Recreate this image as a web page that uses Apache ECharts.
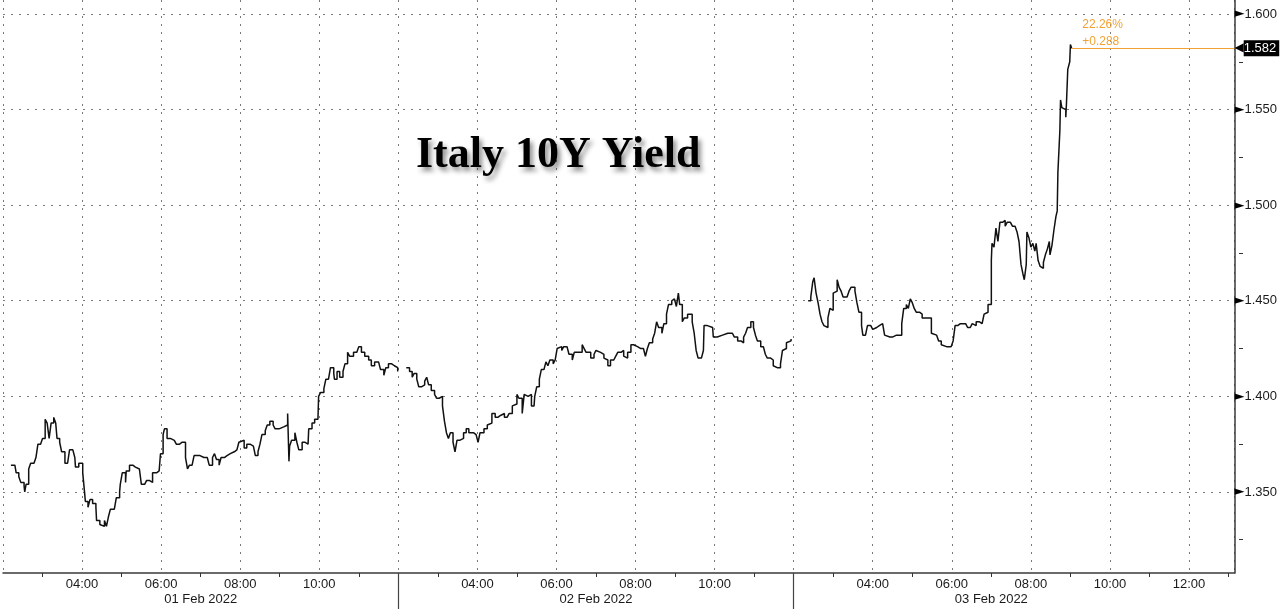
<!DOCTYPE html>
<html><head><meta charset="utf-8">
<script src="https://cdn.jsdelivr.net/npm/echarts@6/dist/echarts.min.js"></script>
<style>html,body{margin:0;padding:0;background:#fff}#c{width:1280px;height:609px}</style>
</head><body><div id="c"></div>
<script>
const chartTitle = 'Italy 10Y Yield';
const dayLabels = ['01 Feb 2022', '02 Feb 2022', '03 Feb 2022'];
const sessionOpenHour = 2;      // each session drawn from 02:00
const sessionLength = 10;       // hours per session on the axis
const sessionCount = 3;
const xAxisEnd = 31.15;         // axis ends ~13:09 on the last day
const yTicks = [1.35, 1.40, 1.45, 1.50, 1.55, 1.60];
const yMinorTicks = [1.325, 1.375, 1.425, 1.475, 1.525, 1.575];
const prevClose = 1.294;

// minutes after 02:00, and yields
const day1Minutes = [12,18,20,24,27,32,33,35,39,42,47,50,53,57,60,64,67,70,73,77,80,82,86,89,94,98,101,106,109,110,115,118,121,124,125,129,132,136,141,142,147,150,154,157,160,163,169,172,177,178,181,186,187,192,197,201,207,210,215,218,222,227,233,237,239,243,245,249,254,260,263,268,272,275,277,280,283,287,290,295,299,305,310,313,318,321,324,328,331,336,340,345,351,355,358,361,366,370,375,380,383,387,390,393,398,401,405,410,413,419,426,432,434,435,438,443,446,449,454,458,463,464,469,473,478,479,482,487,490,494,497,502,503,507,511,516,519,523,526,532,537,540,544,549,555,559,564,570,573,578,581,585,590,594,599];
const day1Values = [1.364,1.365,1.360,1.358,1.355,1.353,1.350,1.354,1.362,1.365,1.366,1.368,1.375,1.374,1.378,1.388,1.386,1.378,1.386,1.389,1.386,1.378,1.376,1.371,1.365,1.365,1.372,1.372,1.368,1.363,1.365,1.365,1.360,1.349,1.345,1.342,1.346,1.344,1.342,1.335,1.333,1.332,1.335,1.332,1.337,1.341,1.342,1.347,1.350,1.354,1.360,1.355,1.361,1.364,1.363,1.362,1.361,1.354,1.355,1.356,1.355,1.360,1.361,1.362,1.370,1.380,1.383,1.378,1.377,1.376,1.375,1.376,1.376,1.376,1.368,1.362,1.364,1.363,1.369,1.369,1.368,1.368,1.367,1.364,1.368,1.370,1.367,1.364,1.368,1.369,1.370,1.371,1.372,1.372,1.376,1.377,1.373,1.375,1.374,1.375,1.369,1.371,1.375,1.380,1.382,1.385,1.387,1.385,1.383,1.384,1.385,1.391,1.366,1.374,1.377,1.381,1.376,1.372,1.376,1.375,1.376,1.383,1.386,1.388,1.389,1.400,1.402,1.404,1.409,1.410,1.415,1.412,1.409,1.413,1.410,1.413,1.417,1.423,1.421,1.423,1.423,1.426,1.423,1.421,1.419,1.416,1.418,1.419,1.414,1.411,1.415,1.417,1.416,1.415,1.413];

const day2Minutes = [12,17,21,24,28,31,35,40,43,46,50,55,58,62,67,70,73,76,79,83,86,89,93,99,103,107,114,118,121,124,130,135,138,142,147,151,155,161,165,168,173,176,180,183,188,191,194,197,202,206,207,210,214,217,221,224,227,230,235,238,241,244,248,251,256,259,264,267,271,274,279,282,285,288,292,297,300,303,307,312,315,318,322,327,330,333,338,342,345,348,353,357,360,363,368,372,375,378,381,386,389,392,395,400,403,407,410,415,418,419,422,425,427,431,434,439,442,446,449,452,455,460,463,464,469,472,477,478,484,487,492,495,500,503,507,510,515,520,524,527,530,535,539,542,545,550,554,557,560,565,569,572,575,580,583,585,589,592,596];
const day2Values = [1.415,1.413,1.410,1.412,1.409,1.405,1.406,1.408,1.410,1.406,1.403,1.401,1.399,1.400,1.395,1.387,1.381,1.378,1.381,1.376,1.371,1.377,1.378,1.381,1.383,1.381,1.380,1.379,1.376,1.381,1.383,1.385,1.386,1.391,1.389,1.390,1.391,1.389,1.390,1.391,1.395,1.396,1.401,1.399,1.391,1.401,1.400,1.401,1.395,1.394,1.400,1.405,1.409,1.414,1.415,1.418,1.416,1.419,1.417,1.419,1.425,1.426,1.424,1.426,1.425,1.422,1.419,1.423,1.422,1.423,1.427,1.425,1.423,1.423,1.420,1.422,1.424,1.423,1.422,1.420,1.419,1.416,1.419,1.420,1.421,1.423,1.424,1.421,1.420,1.423,1.427,1.428,1.426,1.425,1.425,1.425,1.421,1.425,1.428,1.430,1.433,1.439,1.436,1.433,1.438,1.443,1.448,1.450,1.449,1.451,1.447,1.454,1.448,1.439,1.441,1.443,1.443,1.439,1.433,1.424,1.420,1.421,1.424,1.437,1.438,1.436,1.436,1.431,1.430,1.432,1.433,1.433,1.433,1.433,1.432,1.431,1.429,1.428,1.431,1.433,1.436,1.439,1.436,1.432,1.429,1.426,1.425,1.422,1.420,1.419,1.416,1.415,1.415,1.417,1.424,1.425,1.428,1.429,1.430];

const day3Minutes = [22,26,29,31,34,37,40,43,46,49,52,55,58,60,63,66,69,72,75,78,81,84,87,90,93,96,99,103,105,109,112,117,120,123,126,130,135,138,141,146,150,156,159,164,167,171,174,177,180,183,186,191,195,198,201,204,209,212,217,220,224,227,232,235,239,242,245,249,253,256,261,264,268,271,274,277,282,286,289,292,295,298,300,301,304,307,310,313,317,321,324,329,332,336,339,342,345,348,350,353,354,357,360,363,366,368,371,374,377,379,382,385,388,389,392,395,398,400,401,402,404,405,407,410,413,414,416,419,420,422];
const day3Values = [1.450,1.452,1.460,1.462,1.454,1.449,1.443,1.439,1.437,1.436,1.441,1.446,1.445,1.454,1.455,1.461,1.457,1.455,1.452,1.452,1.452,1.455,1.457,1.457,1.455,1.449,1.444,1.437,1.432,1.432,1.437,1.436,1.435,1.436,1.437,1.438,1.439,1.432,1.431,1.431,1.432,1.431,1.432,1.438,1.446,1.448,1.446,1.451,1.449,1.446,1.444,1.443,1.441,1.441,1.440,1.441,1.433,1.432,1.433,1.429,1.427,1.426,1.425,1.426,1.427,1.429,1.437,1.438,1.437,1.438,1.439,1.436,1.436,1.438,1.437,1.439,1.438,1.439,1.443,1.444,1.448,1.448,1.471,1.480,1.478,1.488,1.481,1.491,1.492,1.489,1.491,1.490,1.489,1.489,1.486,1.481,1.469,1.464,1.461,1.469,1.486,1.483,1.478,1.480,1.476,1.480,1.471,1.468,1.467,1.470,1.474,1.477,1.481,1.474,1.479,1.487,1.494,1.497,1.517,1.518,1.539,1.555,1.551,1.550,1.546,1.553,1.571,1.575,1.584,1.582];

const days = [[day1Minutes, day1Values], [day2Minutes, day2Values], [day3Minutes, day3Values]];
const seriesData = days.map(([mins, vals], d) => mins.map((m, i) => [d * sessionLength + m / 60, vals[i]]));
const lastPoint = seriesData[2][seriesData[2].length - 1];
const lastValue = lastPoint[1];
const change = lastValue - prevClose;
const pctText = (change / prevClose * 100).toFixed(2) + '%';
const chgText = (change >= 0 ? '+' : '') + change.toFixed(3);

const orange = '#f0a232';
const gridDots = { color: '#7a7a7a', width: 1, type: [2, 6] };
const labelFont = 'Liberation Sans';
const gridRight = 44;
const plotWidth = 1280 - gridRight;

function hourLabel(v) {
  const r = Math.round(v * 1000) / 1000;
  if (Math.abs(r - Math.round(r)) > 1e-6) return '';
  const n = Math.round(r);
  const day = Math.min(Math.floor(n / sessionLength), sessionCount - 1);
  const within = n - day * sessionLength;
  if (within === 0) return '';
  const h = sessionOpenHour + within;
  return (h < 10 ? '0' : '') + h + ':00';
}

const chart = echarts.init(document.getElementById('c'), null, { renderer: 'canvas' });
chart.setOption({
  animation: false,
  backgroundColor: '#fff',
  title: {
    text: chartTitle, left: 416, top: 134, padding: 0,
    textStyle: {
      fontFamily: 'Liberation Serif', fontWeight: 'bold', fontSize: 44, color: '#000',
      textShadowColor: 'rgba(0,0,0,0.45)', textShadowBlur: 5, textShadowOffsetX: 3, textShadowOffsetY: 4
    }
  },
  grid: { left: 0, right: gridRight, top: 0, bottom: 36, containLabel: false },
  xAxis: [
    {
      type: 'value', min: 0, max: xAxisEnd, interval: 2, position: 'bottom',
      axisLine: { show: true, onZero: false, lineStyle: { color: '#3a3a3a', width: 1.5 } },
      axisTick: { show: false },
      minorTick: { show: true, splitNumber: 2, length: 4, lineStyle: { color: '#333', width: 1 } },
      splitLine: { show: true, lineStyle: gridDots },
      axisLabel: { formatter: hourLabel, margin: 5, fontSize: 13, fontFamily: labelFont, color: '#1a1a1a', showMaxLabel: false }
    },
    {
      type: 'value', min: 0, max: xAxisEnd, position: 'bottom',
      axisLine: { show: false, onZero: false },
      axisTick: { show: true, customValues: [sessionLength, 2 * sessionLength], length: 36, lineStyle: { color: '#444', width: 1.2 } },
      splitLine: { show: false },
      axisLabel: {
        customValues: [5, 15, 25], margin: 20, fontSize: 13, fontFamily: labelFont, color: '#1a1a1a',
        formatter: v => dayLabels[Math.floor(v / sessionLength)]
      }
    }
  ],
  yAxis: [
    {
      type: 'value', min: 1.3076, max: 1.6073, position: 'right',
      axisLine: { show: true, onZero: false, lineStyle: { color: '#3a3a3a', width: 1.5 } },
      axisTick: { show: false, customValues: yTicks },
      splitLine: { show: true, lineStyle: gridDots },
      axisLabel: {
        customValues: yTicks, margin: 0,
        formatter: v => '{t|►}{v|' + v.toFixed(3) + '}',
        rich: {
          t: { fontFamily: 'DejaVu Sans', fontSize: 13, color: '#000' },
          v: { fontFamily: labelFont, fontSize: 13, color: '#1a1a1a' }
        }
      }
    },
    {
      type: 'value', min: 1.3076, max: 1.6073, position: 'left', offset: -plotWidth,
      axisLine: { show: false, onZero: false },
      axisTick: { show: true, inside: true, customValues: yMinorTicks, length: 4, lineStyle: { color: '#333' } },
      splitLine: { show: false },
      axisLabel: { show: false }
    }
  ],
  series: seriesData.map((data, d) => {
    const s = {
      type: 'line', step: 'end', data, symbol: 'none', silent: true,
      xAxisIndex: 0, yAxisIndex: 0,
      lineStyle: { color: '#111', width: 1.5 }
    };
    if (d === 2) {
      s.markLine = {
        silent: true, symbol: ['none', 'none'], animation: false,
        lineStyle: { color: orange, width: 1, type: 'solid' },
        label: {
          show: true, position: 'end', distance: 0,
          formatter: '{a|◀}{b|' + lastValue.toFixed(3) + '}',
          rich: {
            a: { fontFamily: 'DejaVu Sans', fontSize: 12, color: '#000' },
            b: { fontFamily: labelFont, fontSize: 13, color: '#fff', backgroundColor: '#000', padding: [2, 3, 1, 0] }
          }
        },
        data: [[{ coord: [lastPoint[0], lastValue] }, { coord: [xAxisEnd, lastValue] }]]
      };
      s.markPoint = {
        silent: true, symbol: 'circle', symbolSize: 1, animation: false,
        itemStyle: { color: 'rgba(0,0,0,0)' },
        label: {
          show: true, position: 'right', distance: 5, offset: [5, -15], align: 'left',
          formatter: pctText + '\n' + chgText, color: orange, fontSize: 12, lineHeight: 17, fontFamily: labelFont
        },
        data: [{ coord: [lastPoint[0], lastValue] }]
      };
    }
    return s;
  })
});
</script></body></html>
